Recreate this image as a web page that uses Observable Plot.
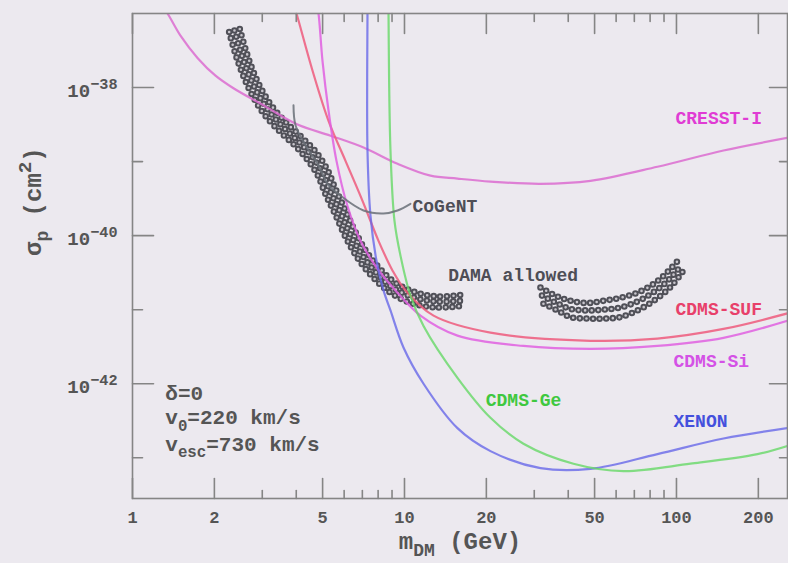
<!DOCTYPE html>
<html><head><meta charset="utf-8">
<script src="https://cdn.jsdelivr.net/npm/d3@7"></script>
<script src="https://cdn.jsdelivr.net/npm/@observablehq/plot@0.6"></script>
<style>html,body{margin:0;padding:0;background:#ece9ef;overflow:hidden;}</style>
</head><body><div id="chart"></div>
<script>
// ---- axes ----
const xTicksMajor = [1, 2, 5, 10, 20, 50, 100, 200];
const xTickLabels = ["1", "2", "5", "10", "20", "50", "100", "200"];
const xTicksMinor = [3, 4, 6, 7, 8, 9, 30, 40, 60, 70, 80, 90];
const yExpMajor = [-38, -40, -42];
const yExpMinor = [-39, -41, -43];
const xDomain = [1, 256];
const yExpDomain = [-43.55, -37];

// ---- curves: [m_DM (GeV), log10 sigma_p (cm^2)] ----
const cresst = [[1.278,-36.89],[1.345,-37.0],[1.501,-37.3],[1.734,-37.6],[2.019,-37.84],[2.351,-38.01],[3.03,-38.24],[4.044,-38.5],[5.346,-38.65],[7.07,-38.81],[9.43,-39.03],[12.46,-39.19],[15.66,-39.23],[20.71,-39.27],[31.6,-39.3],[48.3,-39.26],[85.1,-39.07],[148.9,-38.85],[255.9,-38.68]];
const cdmsSuf = [[3.908,-36.87],[4.009,-37.0],[4.589,-37.77],[5.256,-38.45],[6.069,-38.99],[7.009,-39.53],[8.026,-40.07],[9.034,-40.47],[10.09,-40.74],[12.79,-41.08],[20.71,-41.31],[48.3,-41.42],[85.1,-41.39],[148.9,-41.26],[255.9,-41.05]];
const cdmsSi = [[4.748,-36.87],[4.829,-37.0],[4.995,-37.64],[5.256,-38.31],[5.623,-38.99],[6.172,-39.6],[6.891,-40.07],[7.824,-40.41],[9.267,-40.74],[11.45,-41.08],[15.66,-41.35],[27.38,-41.49],[48.3,-41.53],[85.1,-41.49],[148.9,-41.38],[255.9,-41.15]];
const xenon = [[7.311,-36.87],[7.311,-37.0],[7.311,-38.85],[7.499,-39.73],[7.891,-40.34],[8.374,-40.74],[8.882,-41.01],[9.916,-41.51],[11.75,-42.0],[15.66,-42.6],[20.71,-42.91],[31.62,-43.14],[48.3,-43.15],[85.14,-42.95],[148.9,-42.74],[255.9,-42.6]];
const cdmsGe = [[8.737,-36.87],[8.737,-37.0],[8.882,-38.85],[9.188,-39.8],[9.667,-40.27],[10.52,-40.81],[11.75,-41.22],[15.66,-41.92],[20.71,-42.46],[27.38,-42.81],[41.81,-43.08],[63.85,-43.18],[112.6,-43.08],[198.6,-42.95],[255.9,-42.84]];
const cogent = [[3.908,-38.24],[3.975,-38.51],[4.325,-38.78],[4.829,-39.05],[5.212,-39.3],[5.817,-39.46],[7.069,-39.66],[8.374,-39.7],[9.425,-39.66],[10.52,-39.57]];

// ---- DAMA allowed bands (rows of circles) ----
const damaLowA = [[2.48,-37.21],[2.607,-37.49],[2.764,-37.76],[2.975,-38.02],[3.283,-38.27],[3.714,-38.49],[4.213,-38.68],[4.724,-38.87],[5.206,-39.11],[5.576,-39.37],[6.069,-39.66],[6.599,-39.95],[7.286,-40.23],[8.093,-40.44],[9.127,-40.62],[10.68,-40.75],[13.05,-40.82],[16.17,-40.8]];
const damaLowC = [[2.371,-37.23],[2.495,-37.51],[2.647,-37.78],[2.857,-38.05],[3.162,-38.31],[3.591,-38.54],[4.076,-38.73],[4.551,-38.92],[4.995,-39.15],[5.346,-39.41],[5.817,-39.69],[6.331,-39.99],[7.009,-40.27],[7.824,-40.49],[8.882,-40.68],[10.52,-40.82],[13.0,-40.89],[16.2,-40.88]];
const damaLowB = [[2.267,-37.25],[2.387,-37.54],[2.535,-37.81],[2.743,-38.09],[3.047,-38.36],[3.471,-38.59],[3.944,-38.78],[4.384,-38.97],[4.792,-39.18],[5.124,-39.44],[5.576,-39.72],[6.075,-40.02],[6.741,-40.31],[7.564,-40.54],[8.645,-40.74],[10.36,-40.9],[12.96,-40.97],[16.23,-40.95]];
const damaHighU = [[31.62,-40.7],[35.91,-40.81],[40.76,-40.88],[47.09,-40.91],[53.89,-40.88],[62.26,-40.84],[71.89,-40.77],[80.24,-40.68],[87.34,-40.58],[95.05,-40.45],[103.4,-40.3]];
const damaHighM = [[32.03,-40.81],[36.22,-40.91],[40.76,-40.99],[47.09,-41.01],[53.89,-41.0],[62.26,-40.97],[71.89,-40.89],[80.24,-40.79],[88.45,-40.68],[96.27,-40.55],[104.8,-40.39]];
const damaHighL = [[32.43,-40.92],[36.52,-41.01],[40.76,-41.1],[47.09,-41.12],[53.89,-41.12],[62.26,-41.1],[71.89,-41.01],[80.24,-40.91],[89.59,-40.78],[97.5,-40.65],[106.1,-40.47]];

// ---- labels ----
const labelNames = ["CRESST-I", "CDMS-SUF", "CDMS-Si", "CDMS-Ge", "XENON", "CoGeNT", "DAMA allowed"];
const labelMass = [99.2, 99.2, 97.5, 19.9, 97.5, 10.7, 14.5];
const labelExp = [-38.41, -41.0, -41.70, -42.22, -42.51, -39.60, -40.53];
const noteLines = ["δ=0", "v_{0}=220 km/s", "v_{esc}=730 km/s"];
const noteMass = 1.32;
const noteExp = [-42.135, -42.459, -42.811];

// ---- styles ----
const labelColors = ["#e03cd4", "#e8406a", "#d452e6", "#3fc83f", "#4450dd", "#4e4e56", "#4e4e56"];
const FONT = "Liberation Mono";
const X = d => d[0];
const Y = d => 10 ** d[1];
const curve = (data, stroke, w = 2.2, op = 0.85) => Plot.line(data, {x: X, y: Y, stroke, strokeWidth: w, strokeOpacity: op, curve: "catmull-rom", clip: true});
const damaRows = [damaLowA, damaLowC, damaLowB, damaHighU, damaHighM, damaHighL];
const dotStyle = {x: X, y: Y, strokeLinecap: "round", strokeDasharray: "0 6.6", curve: "catmull-rom", clip: true};
const tickShape = {draw(c, l) { c.moveTo(0, 0); c.lineTo(0, -l); }};
const tk = {shape: tickShape, anchor: "start", stroke: "#858585", strokeWidth: 1.6};
const yMin = 10 ** yExpDomain[0], yMax = 10 ** yExpDomain[1];

const chart = Plot.plot({
  width: 788, height: 563,
  marginLeft: 132, marginRight: 1, marginTop: 13, marginBottom: 65,
  x: {type: "log", domain: xDomain, axis: null},
  y: {type: "log", domain: [yMin, yMax]},
  style: {background: "#ece9ef", fontFamily: FONT, color: "#555"},
  marks: [
    ...damaRows.map(r => Plot.line(r, {...dotStyle, stroke: "#505058", strokeWidth: 6.6})),
    ...damaRows.map(r => Plot.line(r, {...dotStyle, stroke: "#c9c6cd", strokeWidth: 2.6})),
    curve(cresst, "#dc6cd0"),
    curve(cdmsSuf, "#ef5a7c"),
    curve(cdmsSi, "#e060e0"),
    curve(xenon, "#6868e8", 2.2, 0.8),
    curve(cdmsGe, "#66d866", 2.2, 0.8),
    curve(cogent, "#6a7078", 2),
    Plot.frame({stroke: "#858585", strokeWidth: 1.6}),
    Plot.vector(xTicksMajor, {...tk, x: d => d, y: yMin, length: 20, rotate: 0}),
    Plot.vector(xTicksMinor, {...tk, x: d => d, y: yMin, length: 8, rotate: 0}),
    Plot.vector(xTicksMajor, {...tk, x: d => d, y: yMax, length: 20, rotate: 180}),
    Plot.vector(xTicksMinor, {...tk, x: d => d, y: yMax, length: 8, rotate: 180}),
    Plot.vector(yExpMajor, {...tk, x: xDomain[0], y: d => 10 ** d, length: 21, rotate: 90}),
    Plot.vector(yExpMinor, {...tk, x: xDomain[0], y: d => 10 ** d, length: 10, rotate: 90}),
    Plot.vector(yExpMajor, {...tk, x: xDomain[1], y: d => 10 ** d, length: 18, rotate: -90}),
    Plot.vector(yExpMinor, {...tk, x: xDomain[1], y: d => 10 ** d, length: 8, rotate: -90}),
    Plot.text(xTicksMajor, {x: d => d, frameAnchor: "bottom", lineAnchor: "top", dy: 12, text: (d, i) => xTickLabels[i], fill: "#555", fontSize: 17, fontWeight: "bold"}),
    Plot.axisY(yExpMajor.map(e => 10 ** e), {tickSize: 0, tickPadding: 15, fontSize: 19, fontWeight: "bold", dy: 3, tickFormat: d => `10^{−${-Math.round(Math.log10(d))}}`, label: null}),
    ...labelNames.map((n, i) => Plot.text([n], {x: labelMass[i], y: 10 ** labelExp[i], text: d => d, textAnchor: "start", fill: labelColors[i], fontSize: 18, fontWeight: "bold"})),
    Plot.text(noteLines, {x: noteMass, y: (d, i) => 10 ** noteExp[i], text: d => d, textAnchor: "start", fill: "#555", fontSize: 21, fontWeight: "bold"}),
    Plot.text(["m_{DM} (GeV)"], {frameAnchor: "bottom", dy: 50, text: d => d, fill: "#555", fontSize: 24, fontWeight: "bold"}),
    Plot.text(["σ_{p} (cm^{2})"], {frameAnchor: "left", dx: -99, rotate: -90, text: d => d, fill: "#555", fontSize: 24, fontWeight: "bold"})
  ]
});
document.getElementById("chart").append(chart);

// turn _{..} and ^{..} into sub/superscript tspans
function richify(svg) {
  const ns = "http://www.w3.org/2000/svg";
  svg.querySelectorAll("text").forEach(t => {
    const s = t.textContent;
    if (!/[_^]\{/.test(s)) return;
    const fs = parseFloat(getComputedStyle(t).fontSize) || 16;
    const parts = s.split(/([_^]\{[^}]*\})/).filter(p => p);
    t.textContent = "";
    let shift = 0;
    for (const p of parts) {
      const ts = document.createElementNS(ns, "tspan");
      let target = 0, txt = p;
      if (p.startsWith("^{")) { target = -0.42 * fs; txt = p.slice(2, -1); ts.setAttribute("font-size", (0.8 * fs) + "px"); }
      else if (p.startsWith("_{")) { target = 0.3 * fs; txt = p.slice(2, -1); ts.setAttribute("font-size", (0.75 * fs) + "px"); }
      if (target !== shift) ts.setAttribute("dy", (target - shift) + "px");
      shift = target;
      ts.textContent = txt;
      t.appendChild(ts);
    }
  });
}
richify(chart);
</script>
</body></html>
